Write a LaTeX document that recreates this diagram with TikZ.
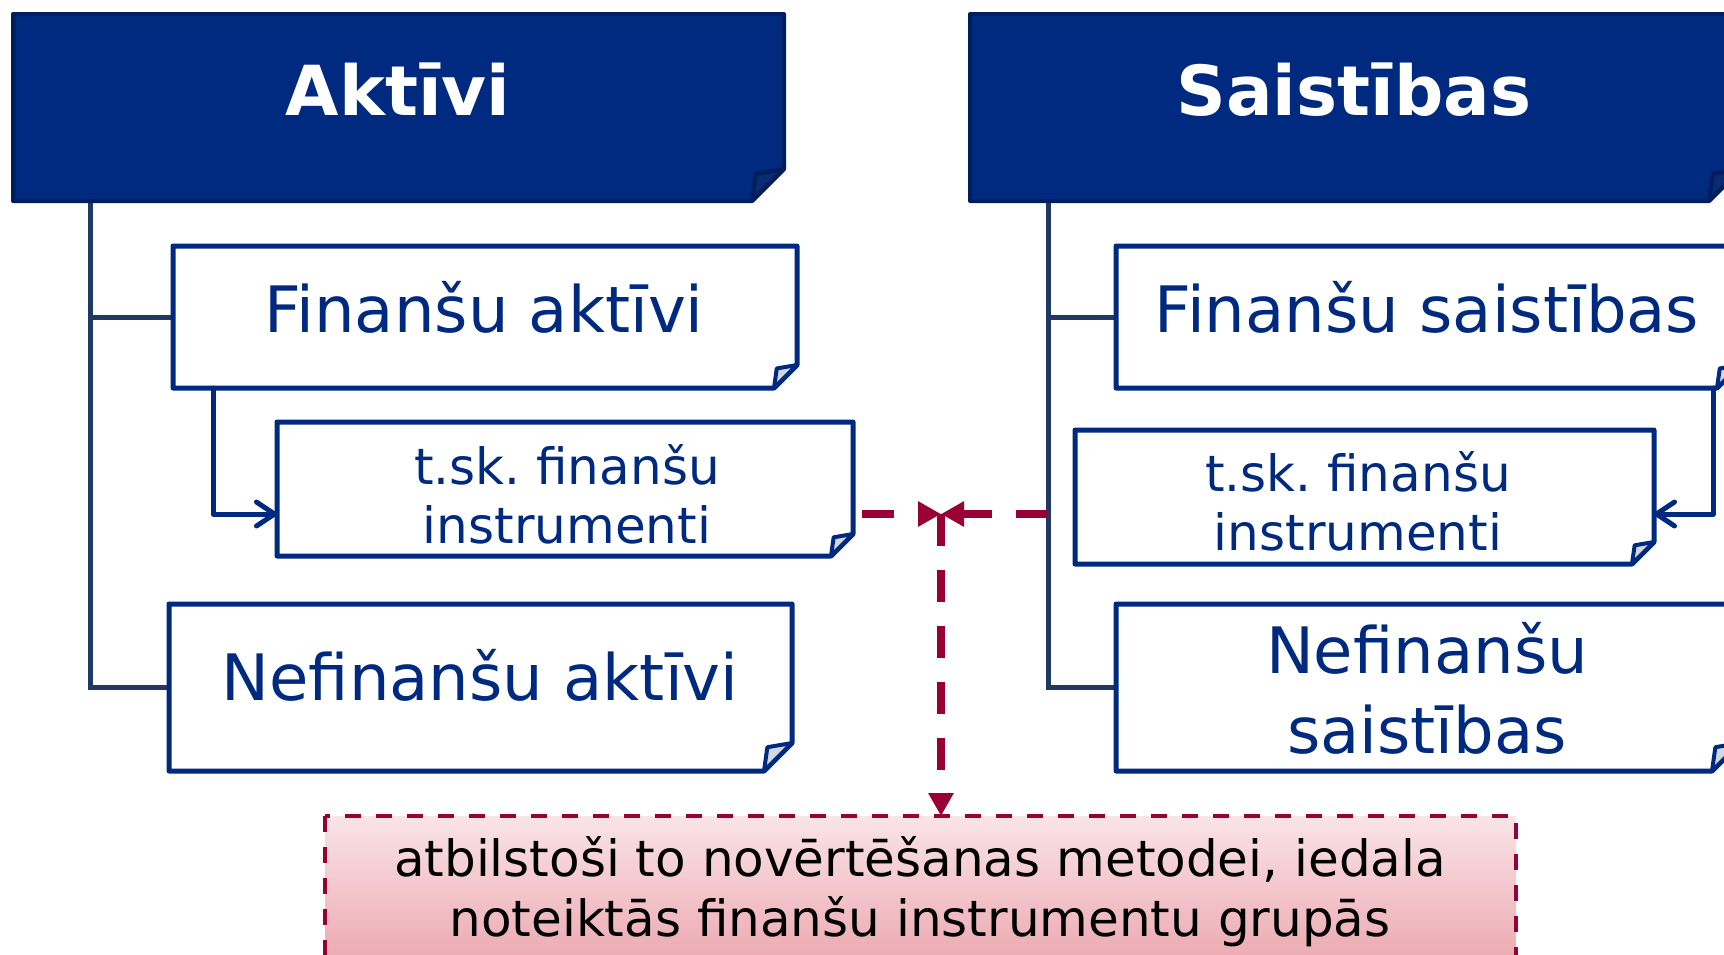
\documentclass[tikz,border=0pt]{standalone}
\usepackage{fontspec}
\setmainfont{DejaVu Sans}
\usetikzlibrary{arrows.meta,calc}
\frenchspacing
\definecolor{navy}{HTML}{002A7F}
\definecolor{navydark}{HTML}{001E5E}
\definecolor{flapnavy}{HTML}{0A2B72}
\definecolor{treeblue}{HTML}{1F3864}
\definecolor{crimson}{HTML}{990033}
\definecolor{pinktop}{HTML}{F9E4E8}
\definecolor{pinkbot}{HTML}{EBA3AB}
\definecolor{flapgrey}{HTML}{D3D7E0}
\newcommand\dogear[4]{%
  \draw[#3] (#1.north west) -- (#1.north east) -- ([yshift=#2pt]#1.south east)
     -- ([xshift=-#2pt]#1.south east) -- (#1.south west) -- cycle;
  \draw[#4] ([xshift=-#2pt]#1.south east) -- ([xshift=-0.88*#2pt, yshift=0.85*#2pt]#1.south east)
     -- ([yshift=#2pt]#1.south east) -- cycle;
}
\begin{document}
\begin{tikzpicture}[x=1pt,y=-1pt,
  box/.style={rectangle, inner sep=0pt, outer sep=0pt, anchor=north west},
  boxframe/.style={draw=navy, line width=5pt, fill=white, line join=round},
  boxflap/.style={draw=navy, line width=4pt, fill=flapgrey, line join=round},
  headframe/.style={draw=navydark, line width=4pt, fill=navy, line join=round},
  headflap/.style={draw=navydark, line width=4pt, fill=flapnavy, line join=round},
  headtext/.style={anchor=base, text=white, font=\fontsize{69}{83}\selectfont\bfseries},
  bigtext/.style={anchor=base, text=navy, align=center, font=\fontsize{64}{80}\selectfont},
  smalltext/.style={anchor=base, text=navy, align=center, font=\fontsize{50}{59}\selectfont},
  notetext/.style={anchor=base, text=black, align=center, font=\fontsize{50}{60}\selectfont},
  tree/.style={draw=treeblue, line width=5pt},
  navyarrow/.style={draw=navy, line width=5pt, line cap=round, line join=round,
    -{Straight Barb[length=18pt, width=24pt, line width=5pt, round]}},
  reddash/.style={draw=crimson, line width=8pt, dash pattern=on 32pt off 24pt,
    -{Triangle[length=23pt, width=24pt]}},
]
\clip (0,0) rectangle (1724,954);
\fill[white] (0,0) rectangle (1724,954);

% box geometry
\node[box, minimum width=771pt, minimum height=187pt] (hA) at (13,14) {};
\node[box, minimum width=771pt, minimum height=187pt] (hS) at (970,14) {};
\node[box, minimum width=624pt, minimum height=142pt] (fa) at (173,246) {};
\node[box, minimum width=624pt, minimum height=142pt] (fs) at (1116,246) {};
\node[box, minimum width=576pt, minimum height=134pt] (tl) at (277,422) {};
\node[box, minimum width=579pt, minimum height=134pt] (tr) at (1075,430) {};
\node[box, minimum width=623pt, minimum height=167pt] (na) at (169,604) {};
\node[box, minimum width=624pt, minimum height=167pt] (ns) at (1116,604) {};
\node[box, minimum width=1191pt, minimum height=160pt] (bt) at (325,816) {};

% tree connectors
\coordinate (tL) at ($(hA.south west)+(77,0)$);
\coordinate (tR) at ($(hS.south west)+(78,0)$);
\draw[tree] (tL) |- (na.west);
\draw[tree] (tL |- fa.west) -- (fa.west);
\draw[tree] (tR) |- (ns.west);
\draw[tree] (tR |- fs.west) -- (fs.west);

% note box
\path[top color=pinktop, bottom color=pinkbot, draw=crimson, line width=4pt,
  dash pattern=on 16pt off 15pt] (bt.north west) rectangle (bt.south east);
\node[notetext] (btt) at (920,936) {atbilstoši to novērtēšanas metodei, iedala\\noteiktās finanšu instrumentu grupās};

% boxes
\dogear{hA}{32}{headframe}{headflap}
\dogear{hS}{32}{headframe}{headflap}
\dogear{fa}{23}{boxframe}{boxflap}
\dogear{fs}{23}{boxframe}{boxflap}
\dogear{tl}{22}{boxframe}{boxflap}
\dogear{tr}{22}{boxframe}{boxflap}
\dogear{na}{28}{boxframe}{boxflap}
\dogear{ns}{28}{boxframe}{boxflap}

% texts
\node[headtext] (hAt) at (398,115) {Aktīvi};
\node[headtext] (hSt) at (1354,115) {Saistības};
\node[bigtext] (fat) at (484,332) {Finanšu aktīvi};
\node[bigtext] (fst) at (1427,332) {Finanšu saistības};
\node[smalltext] (tlt) at (567,543) {t.sk. finanšu\\instrumenti};
\node[smalltext] (trt) at (1358,550) {t.sk. finanšu\\instrumenti};
\node[bigtext] (nat) at (480,700) {Nefinanšu aktīvi};
\node[bigtext] (nst) at (1427,753) {Nefinanšu\\saistības};

% navy arrows
\draw[navyarrow] ($(fa.south west)+(40,0)$) |- ([yshift=-25pt]tl.west);
\draw[navyarrow] ($(fs.south east)+(-27,0)$) |- ([yshift=-17pt]tr.east);

% red dashed arrows
\coordinate (jn) at (941,514);
\draw[reddash] ([xshift=9pt, yshift=-25pt]tl.east) -- (jn);
\draw[reddash] (tR |- jn) -- (jn);
\draw[reddash] (jn) -- (jn |- bt.north);
\end{tikzpicture}
\end{document}
